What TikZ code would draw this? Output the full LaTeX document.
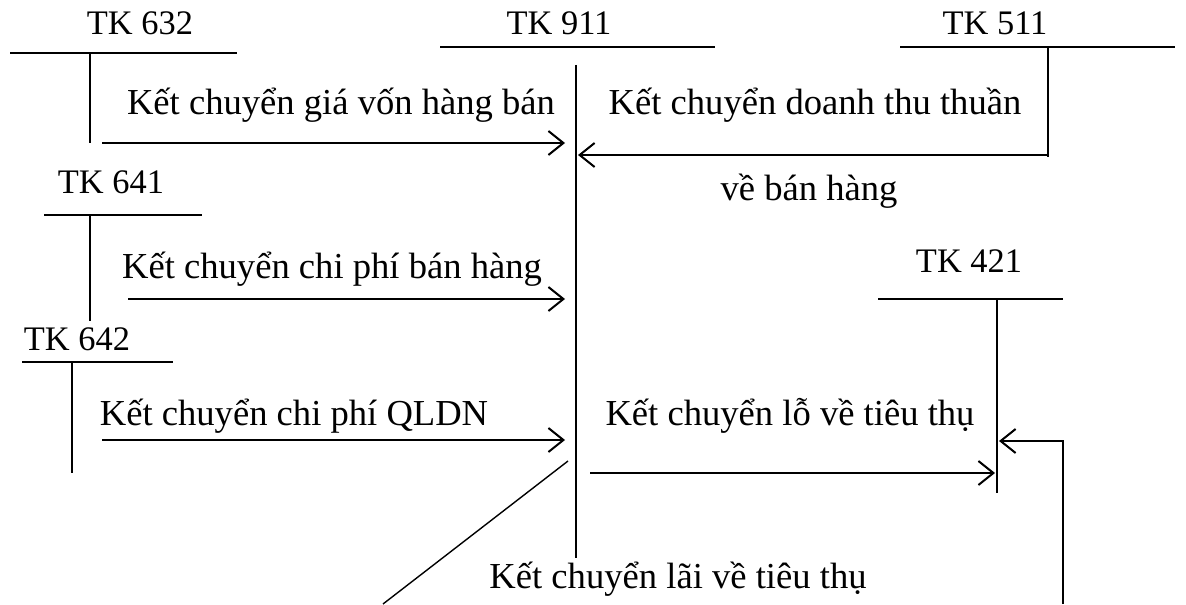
\documentclass[tikz,border=0pt]{standalone}
\usepackage{fontspec}
\setmainfont{Liberation Serif}
\usetikzlibrary{arrows.meta}
\begin{document}
\begin{tikzpicture}[x=0.5pt,y=-0.5pt,
  acct/.style={line width=1pt},
  flow/.style={line width=1pt,-{Straight Barb[length=7.5pt,width=12pt,line width=1pt]}},
  thin/.style={line width=0.7pt},
  lbl/.style={anchor=base,inner sep=0pt,font=\fontsize{18.3}{22}\selectfont},
  head/.style={anchor=base,inner sep=0pt,font=\fontsize{17.2}{21}\selectfont}]
\useasboundingbox (0,0) rectangle (1186,604);

% account headings
\node[head] (h632) at (140,35) {TK 632};
\node[head] (h911) at (559,35) {TK 911};
\node[head] (h511) at (995,35) {TK 511};
\node[head] (h641) at (111,193) {TK 641};
\node[head] (h421) at (969,272) {TK 421};
\node[head] (h642) at (77,350) {TK 642};

% T-account bars
\draw[acct] (10,53) -- (237,53);   \draw[acct] (90,53) -- (90,143);
\draw[acct] (440,47) -- (715,47);  \draw[acct] (576,65) -- (576,558);
\draw[acct] (900,47) -- (1175,47); \draw[acct] (1048,47) -- (1048,157);
\draw[acct] (44,215) -- (202,215); \draw[acct] (90,215) -- (90,321);
\draw[acct] (878,299) -- (1063,299); \draw[acct] (997,299) -- (997,493);
\draw[acct] (22,362) -- (173,362); \draw[acct] (72,362) -- (72,473);

% connector end points
\coordinate (s632) at (102,143);  \coordinate (e632) at (565,143);
\coordinate (s511) at (1048,155); \coordinate (e511) at (578,155);
\coordinate (s641) at (128,299);  \coordinate (e641) at (565,299);
\coordinate (s642) at (102,440);  \coordinate (e642) at (565,440);
\coordinate (sloss) at (590,473); \coordinate (eloss) at (995,473);
\coordinate (sprof) at (1063,604); \coordinate (kprof) at (1063,441);
\coordinate (eprof) at (999,441);
\coordinate (dtop) at (568,461);  \coordinate (dbot) at (383,604);

% transfers
\draw[flow] (s632) -- (e632);
\draw[flow] (s511) -- (e511);
\draw[flow] (s641) -- (e641);
\draw[flow] (s642) -- (e642);
\draw[flow] (sloss) -- (eloss);
\draw[flow] (sprof) -- (kprof) -- (eprof);
\draw[thin] (dbot) -- (dtop);

% transfer labels
\node[lbl] (t1) at (341,115) {Kết chuyển giá vốn hàng bán};
\node[lbl] (t2) at (815,115) {Kết chuyển doanh thu thuần};
\node[lbl] (t3) at (809,200) {về bán hàng};
\node[lbl] (t4) at (332,278) {Kết chuyển chi phí bán hàng};
\node[lbl] (t5) at (294,425) {Kết chuyển chi phí QLDN};
\node[lbl] (t6) at (790,425) {Kết chuyển lỗ về tiêu thụ};
\node[lbl] (t7) at (678,588) {Kết chuyển lãi về tiêu thụ};
\end{tikzpicture}
\end{document}
